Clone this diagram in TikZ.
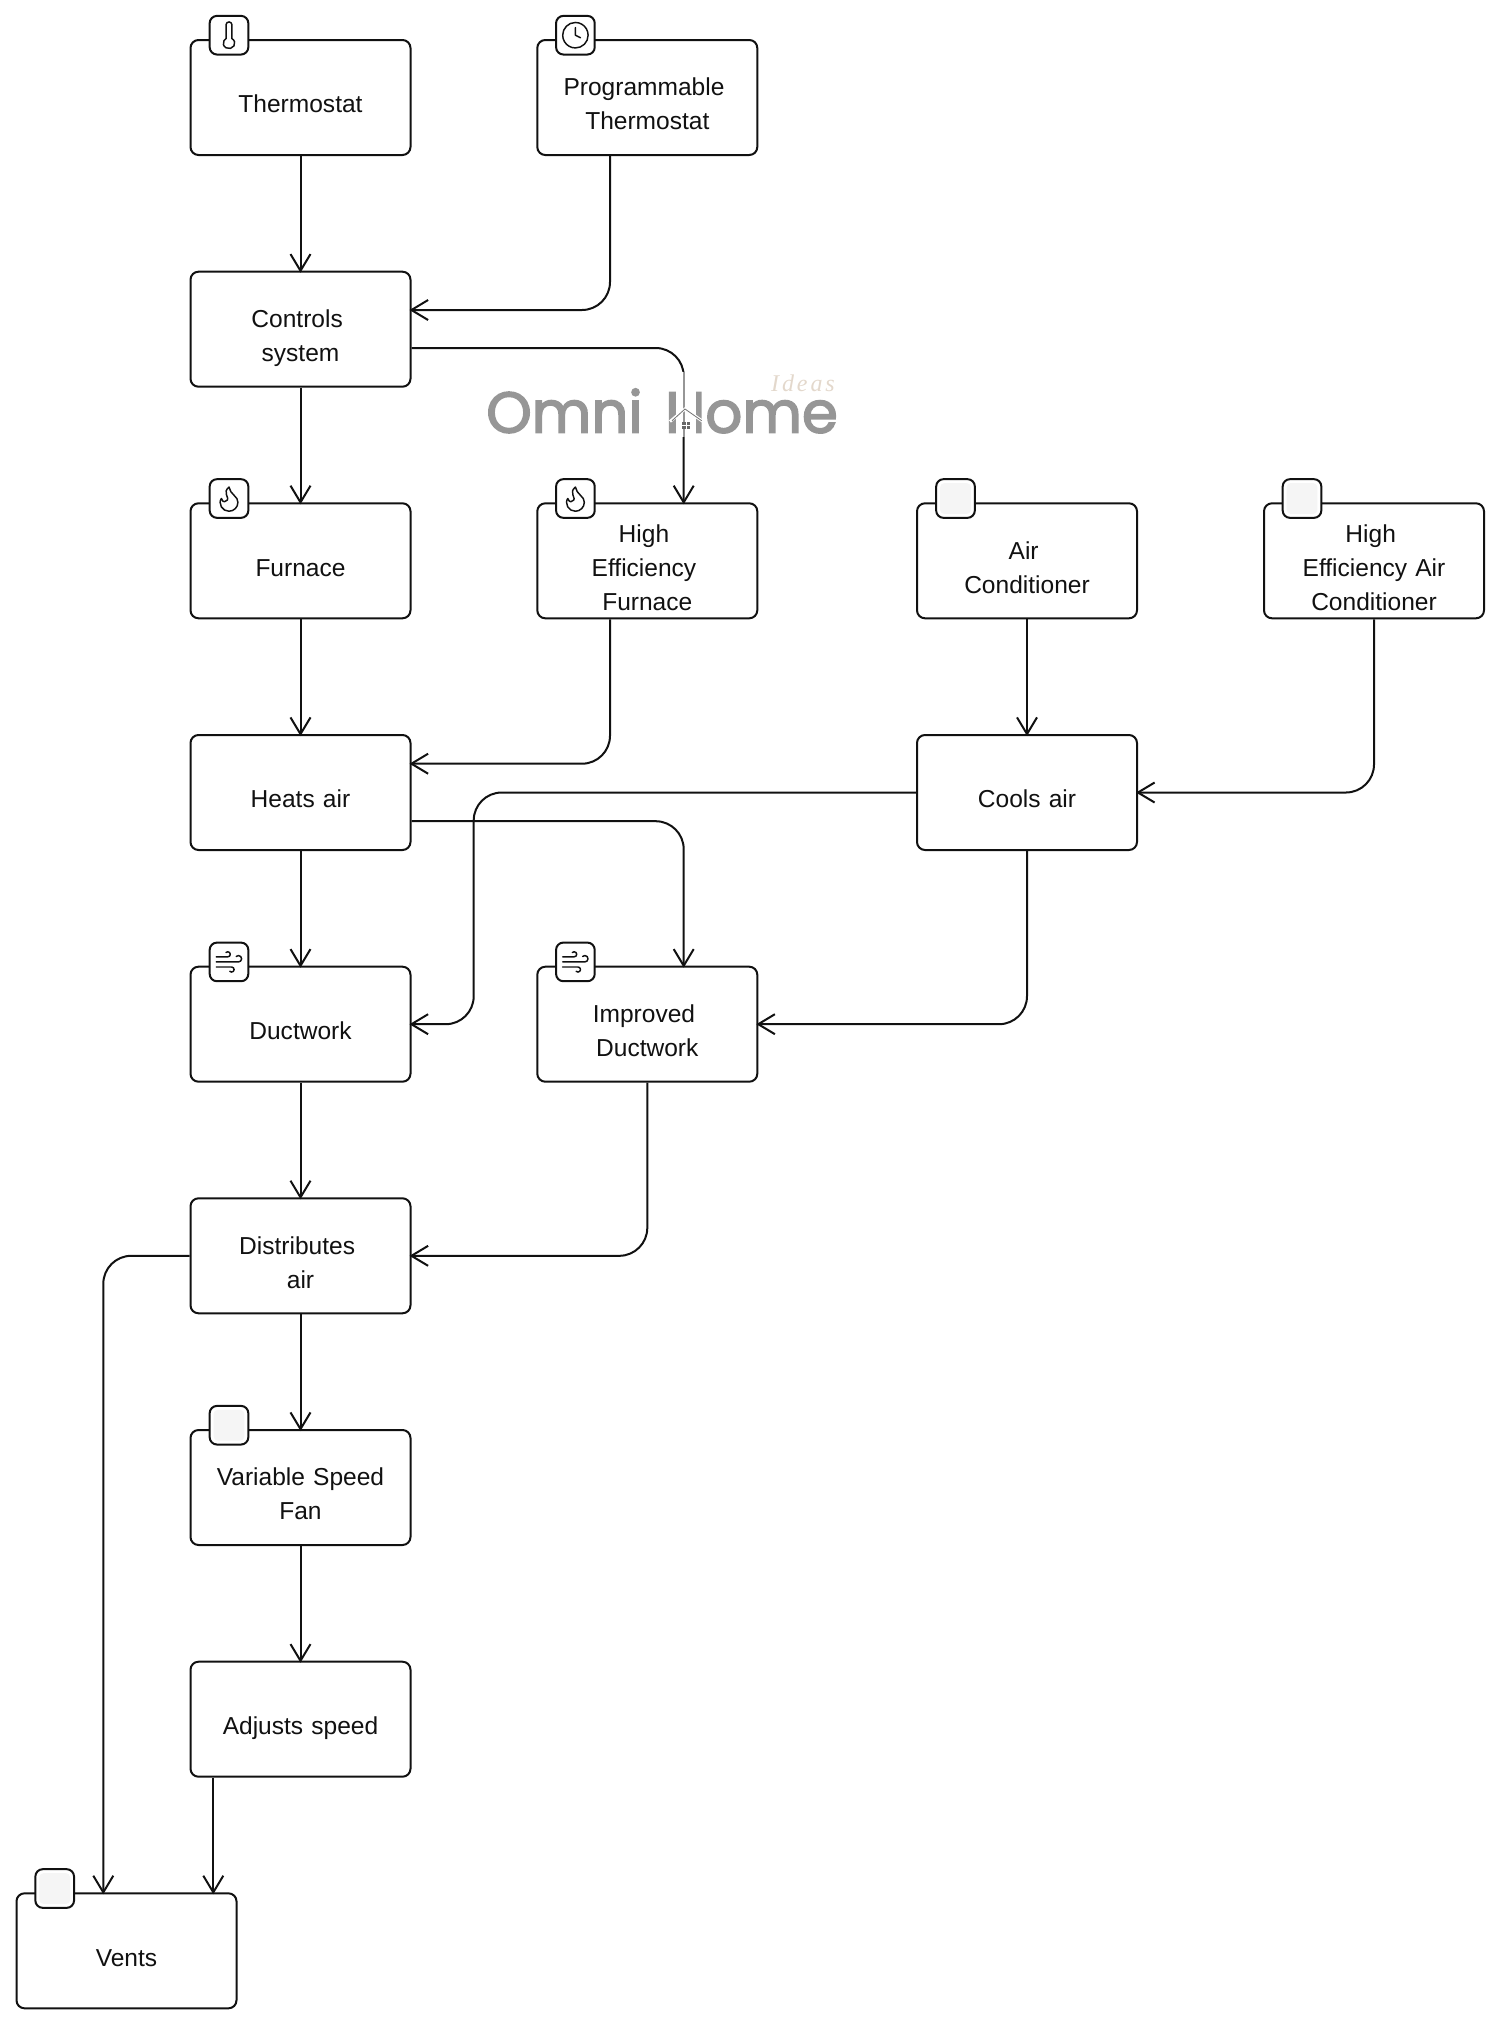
\documentclass[tikz,border=0pt]{standalone}
\usepackage{fontspec}
\setmainfont{Liberation Sans}
\newfontfamily\markfont[FakeBold=2.6]{Poppins}
\newfontfamily\ideasfont[LetterSpace=12]{Liberation Serif}
\usetikzlibrary{arrows.meta,svg.path}
\definecolor{ink}{HTML}{111111}
\newcommand{\tsp}{\kern5pt}
\newcommand{\iconThermo}[1]{\begin{scope}[shift={(#1.center)},xscale=1.08,yscale=-1,shift={(-12pt,-12pt)}]\draw[iconline] svg "M 14 4 v 10.54 a 4 4 0 1 1 -4 0 V 4 a 2 2 0 0 1 4 0 Z";\end{scope}}
\newcommand{\iconClock}[1]{\begin{scope}[iconat=#1]\draw[iconline] svg "M 22 12 A 10 10 0 1 1 2 12 A 10 10 0 1 1 22 12 Z";\draw[iconline] svg "M 12 6 V 12 L 16 14";\end{scope}}
\newcommand{\iconFlame}[1]{\begin{scope}[iconat=#1]\draw[iconline] svg "M 8.5 14.5 A 2.5 2.5 0 0 0 11 12 c 0 -1.38 -0.5 -2 -1 -3 c -1.072 -2.143 -0.224 -4.054 2 -6 c 0.5 2.5 2 4.9 4 6.5 c 2 1.6 3 3.5 3 5.5 a 7 7 0 1 1 -14 0 c 0 -1.153 0.433 -2.294 1 -3 a 2.5 2.5 0 0 0 2.5 2.5 Z";\end{scope}}
\newcommand{\iconWind}[1]{\begin{scope}[iconat=#1]\draw[iconline] svg "M 17.7 7.7 a 2.5 2.5 0 1 1 1.8 4.3 H 2";\draw[iconline] svg "M 9.6 4.6 A 2 2 0 1 1 11 8 H 2";\draw[iconline] svg "M 12.6 19.4 A 2 2 0 1 0 14 16 H 2";\end{scope}}
\newcommand{\iconBlank}[1]{\fill[blankfill] ([shift={(5,5)}]#1.north west) rectangle ([shift={(-5,-5)}]#1.south east);}
\tikzset{
  x=0.75pt,y=-0.75pt,
  iconat/.style={shift={(#1.center)},xscale=.9525,yscale=-.9525,shift={(-12pt,-12pt)}},
  box/.style={draw=ink,line width=1.5pt,rounded corners=6pt,fill=white,minimum width=165pt,minimum height=86.25pt,inner sep=0pt,
    text width=160pt,align=center,font=\fontsize{18.4}{25.5}\selectfont,text=ink,
    execute at begin node={\rule{0pt}{27pt}},execute at end node={\rule[-4.2pt]{0pt}{0pt}}},
  iconbox/.style={draw=ink,line width=1.5pt,rounded corners=5.5pt,fill=white,minimum size=29pt,inner sep=0pt},
  iconline/.style={draw=ink,line width=1.1pt,line cap=round,line join=round},
  blankfill/.style={fill=black!4,rounded corners=3pt},
  conn/.style={draw=ink,line width=1.5pt,rounded corners=21pt,shorten >=-1.5pt,-{Straight Barb[length=12.5pt,width=15pt,line width=1.5pt]}},
  markstyle/.style={anchor=base west,inner sep=0pt,text=black!41,font=\markfont\fontsize{43.4}{44}\selectfont},
}
\begin{document}
\begin{tikzpicture}
\useasboundingbox (0,0) rectangle (1500,2024);
\node[box] (thermostat) at (300.5,97.5) {Thermostat};
\node[box] (prog) at (647.3,97.5) {Programmable\tsp\\Thermostat};
\node[box] (controls) at (300.5,329.2) {Controls\tsp\\system};
\node[box] (furnace) at (300.5,560.8) {Furnace};
\node[box] (hefurn) at (647.3,560.8) {High\tsp\\Efficiency\tsp\\Furnace};
\node[box] (ac) at (1027,560.8) {Air\tsp\\Conditioner};
\node[box] (heac) at (1374,560.8) {High\tsp\\Efficiency Air\\Conditioner};
\node[box] (heats) at (300.5,792.5) {Heats air};
\node[box] (cools) at (1027,792.5) {Cools air};
\node[box] (duct) at (300.5,1024.2) {Ductwork};
\node[box] (impduct) at (647.3,1024.2) {Improved\tsp\\Ductwork};
\node[box] (dist) at (300.5,1255.8) {Distributes\tsp\\air};
\node[box] (fan) at (300.5,1487.5) {Variable Speed\\Fan};
\node[box] (adjust) at (300.5,1719.2) {Adjusts speed};
\node[box] (vents) at (126.5,1950.8) {Vents};
\node[iconbox] (i1) at (229,35.2) {};
\node[iconbox] (i2) at (575.4,35.2) {};
\node[iconbox] (i3) at (229,498.5) {};
\node[iconbox] (i4) at (575.4,498.5) {};
\node[iconbox] (i5) at (955.5,498.5) {};
\node[iconbox] (i6) at (1302,498.5) {};
\node[iconbox] (i7) at (229,961.9) {};
\node[iconbox] (i8) at (575.4,961.9) {};
\node[iconbox] (i9) at (229,1425.2) {};
\node[iconbox] (i10) at (54.7,1888.5) {};
\iconThermo{i1}
\iconClock{i2}
\iconFlame{i3}
\iconFlame{i4}
\iconBlank{i5}
\iconBlank{i6}
\iconWind{i7}
\iconWind{i8}
\iconBlank{i9}
\iconBlank{i10}
\draw[conn] (thermostat.south) -- (controls.north);
\draw[conn] (prog.south -| 610,0) -- (610,310) -- (controls.east |- 0,310);
\draw[conn] (controls.east |- 0,348) -- (683.7,348) -- (hefurn.north -| 683.7,0);
\draw[conn] (controls.south) -- (furnace.north);
\draw[conn] (furnace.south) -- (heats.north);
\draw[conn] (hefurn.south -| 610,0) -- (610,763.7) -- (heats.east |- 0,763.7);
\draw[conn] (ac.south) -- (cools.north);
\draw[conn] (heac.south) -- (heac.south |- cools.east) -- (cools.east);
\draw[conn] (cools.west) -- (473.7,792.5) -- (473.7,1024.2) -- (duct.east);
\draw[conn] (heats.south) -- (duct.north);
\draw[conn] (heats.east |- 0,821.2) -- (683.7,821.2) -- (impduct.north -| 683.7,0);
\draw[conn] (cools.south) -- (cools.south |- impduct.east) -- (impduct.east);
\draw[conn] (duct.south) -- (dist.north);
\draw[conn] (impduct.south) -- (impduct.south |- dist.east) -- (dist.east);
\draw[conn] (dist.west) -- (103.3,1255.8) -- (vents.north -| 103.3,0);
\draw[conn] (dist.south) -- (fan.north);
\draw[conn] (fan.south) -- (adjust.north);
\draw[conn] (adjust.south -| 213.3,0) -- (vents.north -| 213.3,0);
% watermark
\node[markstyle] (omni) at (486,432.7) {Omni};
\node[markstyle] (home) at (665,432.7) {Home};
\fill[white] (676,388) rectangle (696,437);
\fill[white] (676,372) rectangle (691,388);
\draw[black!41,line width=1.3pt] (683.7,372) -- (683.7,437);
\draw[white,line width=2.2pt] (670,421.5) -- (685,409) -- (703,421.5);
\draw[black!55,line width=.6pt] (672,420.7) -- (685,409) -- (701.7,420.7);
\fill[black!60] (682,422) rectangle (690,429);
\draw[white,line width=.5pt] (686,421) -- (686,430) (681,425.5) -- (691,425.5);
\node[anchor=base east,inner sep=0pt,text={rgb,255:red,227;green,216;blue,204},font=\ideasfont\itshape\fontsize{18}{18}\selectfont] (ideas) at (835,391.5) {Ideas};
\end{tikzpicture}
\end{document}
